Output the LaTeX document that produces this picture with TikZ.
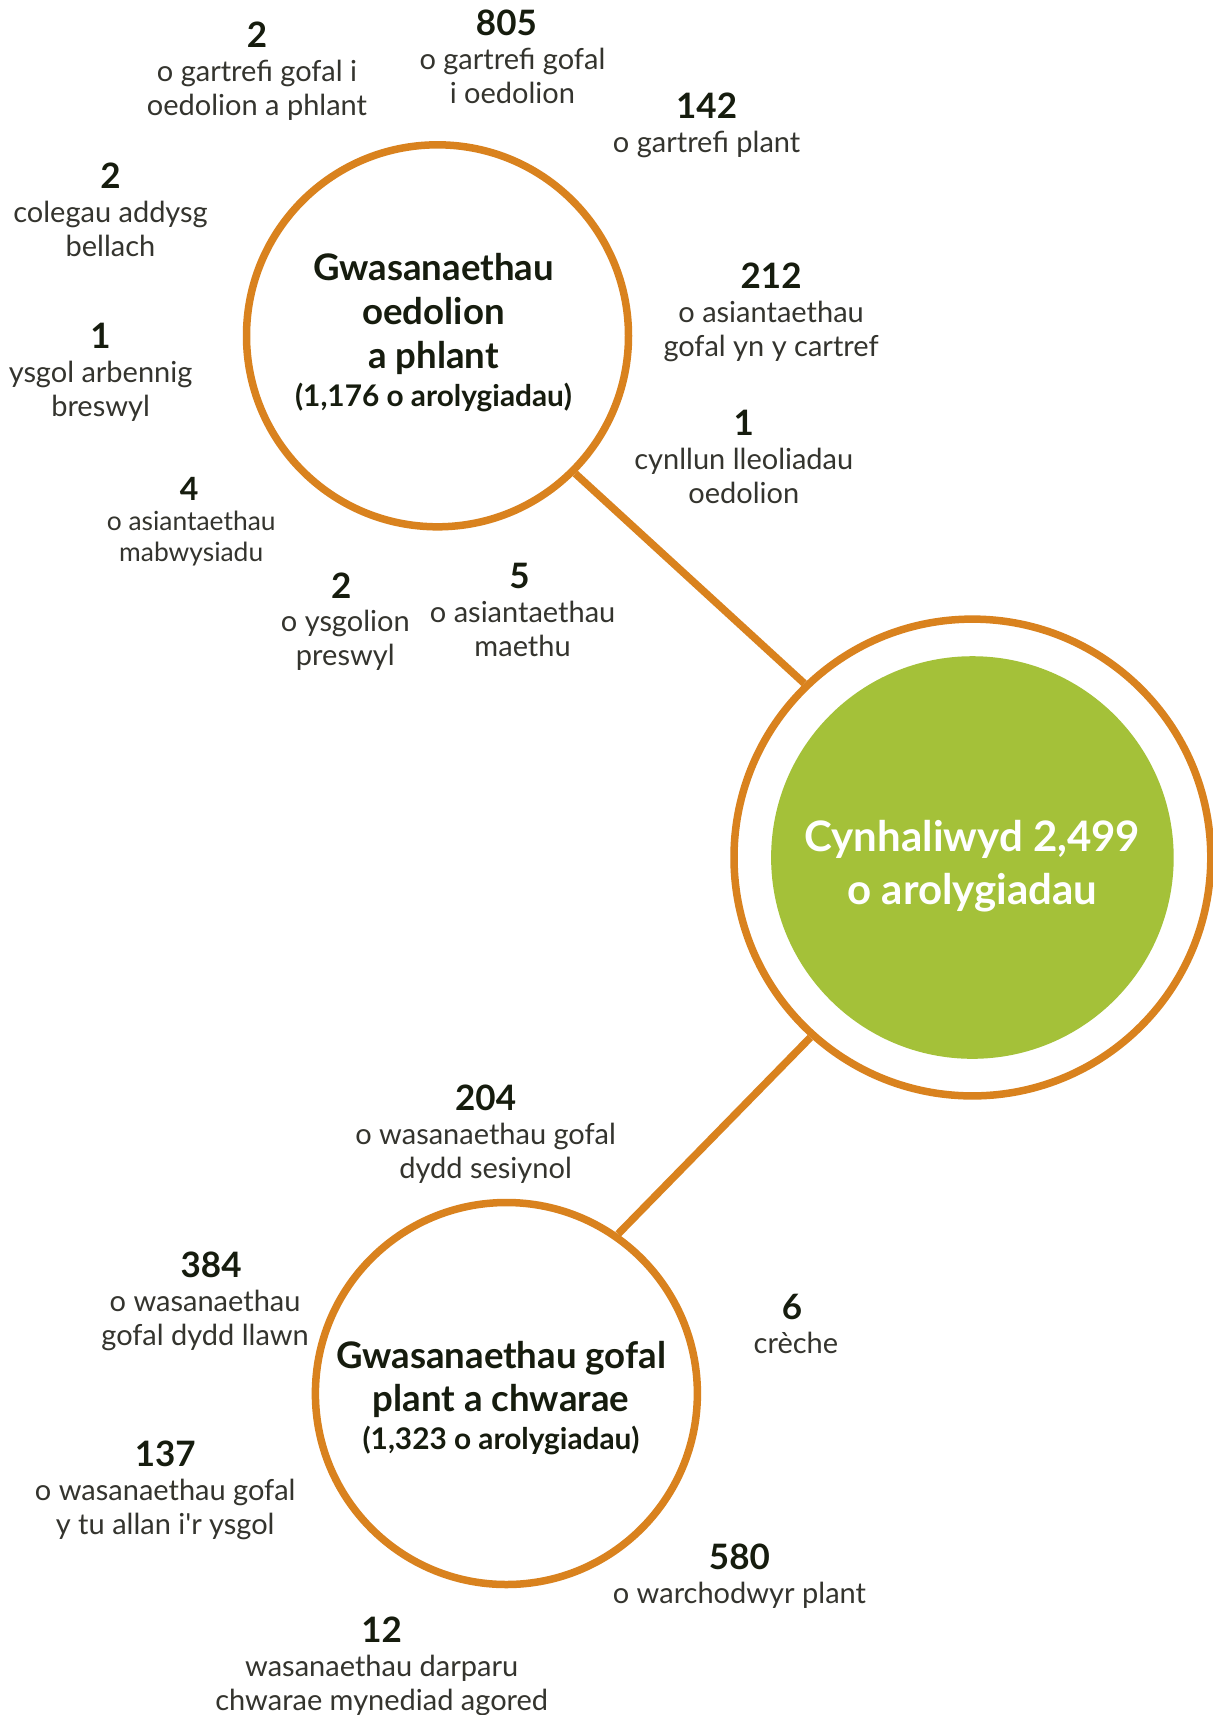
\documentclass[tikz,border=0pt]{standalone}
\usepackage{fontspec}
\setmainfont{Lato}[Ligatures=TeXOff]
\usetikzlibrary{positioning}
\definecolor{oren}{HTML}{D9821E}
\definecolor{gwyrdd}{HTML}{A4C139}
\definecolor{inc}{HTML}{161C0E}
\definecolor{llwyd}{HTML}{34342E}
\tikzset{
    rhif/.style={font=\bfseries\fontsize{17.5}{17.5}\selectfont,text=inc,inner sep=0pt},
    rhifbach/.style={rhif,font=\bfseries\fontsize{16}{16}\selectfont},
    testun/.style={font=\fontsize{14.5}{17}\selectfont,text=llwyd,align=center,inner sep=0pt},
    testunbach/.style={testun,font=\fontsize{13.2}{15.3}\selectfont},
    cylch/.style={circle,draw=oren,line width=3.75pt,fill=white,minimum size=191pt,inner sep=0pt},
    teitl/.style={align=center,text=inc,inner sep=0pt,font=\bfseries\fontsize{18.3}{21.9}\selectfont},
    modrwy/.style={circle,draw=oren,line width=3.75pt,minimum size=238.4pt},
    canol/.style={circle,fill=gwyrdd,minimum size=201.3pt,inner sep=0pt},
    cyfanswm/.style={align=center,text=white,inner sep=0pt,font=\bfseries\fontsize{21}{26.8}\selectfont},
    cyswllt/.style={draw=oren,line width=3.75pt},
}
\newcommand{\nifer}[1]{{\fontsize{14.9}{16}\selectfont(#1 o arolygiadau)}}

\begin{document}
\begin{tikzpicture}[x=0.5pt,y=-0.5pt]
\path[fill=white,use as bounding box] (0,0) rectangle (1213,1715);

% y cylchoedd
\node[cylch] (oedolion) at (437.5,335.8) {};
\node[teitl,xshift=-2pt,yshift=1.6pt] (oedolion-t) at (oedolion.center) {Gwasanaethau\\oedolion\\a phlant\\[-3pt]\nifer{1,176}};

\node[modrwy] (modrwy) at (972.4,857.5) {};
\node[canol]  (canol) at (modrwy.center) {};
\node[cyfanswm,yshift=-4.4pt] (canol-t) at (canol.center) {Cynhaliwyd 2,499\\o arolygiadau};

\node[cylch] (plant) at (506.4,1393.5) {};
\node[teitl,xshift=-2.7pt,yshift=-2.2pt] (plant-t) at (plant.center) {Gwasanaethau gofal\\plant a chwarae\\[-3pt]\nifer{1,323}};

\draw[cyswllt] (oedolion.-45)--(modrwy.134);
\draw[cyswllt] (plant.55.6)--(modrwy.228.9);

% gwasanaethau oedolion a phlant
\node[rhif] (cartAP) at (257.0,35.0) {2};
\node[testun,below=5.8pt of cartAP] (cartAP-t) {o gartrefi gofal i\\oedolion a phlant};

\node[rhif] (cartA) at (506.4,23.0) {805};
\node[testun,below=5.8pt of cartA,xshift=3pt] (cartA-t) {o gartrefi gofal\\i oedolion};

\node[rhif] (cartP) at (706.6,106.1) {142};
\node[testun,below=5.8pt of cartP] (cartP-t) {o gartrefi plant};

\node[rhif] (coleg) at (110.5,176.1) {2};
\node[testun,below=5.8pt of coleg] (coleg-t) {colegau addysg\\bellach};

\node[rhif] (asiant) at (771.1,275.6) {212};
\node[testun,below=5.8pt of asiant] (asiant-t) {o asiantaethau\\gofal yn y cartref};

\node[rhif] (ysgArb) at (100.6,335.8) {1};
\node[testun,below=5.8pt of ysgArb] (ysgArb-t) {ysgol arbennig\\breswyl};

\node[rhif] (cynll) at (743.8,423.3) {1};
\node[testun,below=5.8pt of cynll] (cynll-t) {cynllun lleoliadau\\oedolion};

\node[rhifbach] (mabw) at (189.2,488.9) {4};
\node[testunbach,below=5pt of mabw,xshift=1pt] (mabw-t) {o asiantaethau\\mabwysiadu};

\node[rhif] (ysgPres) at (341.3,585.2) {2};
\node[testun,below=5.8pt of ysgPres,xshift=2pt] (ysgPres-t) {o ysgolion\\preswyl};

\node[rhif] (maeth) at (519.6,576.4) {5};
\node[testun,below=5.8pt of maeth,xshift=1.5pt] (maeth-t) {o asiantaethau\\maethu};

% gofal plant a chwarae
\node[rhif] (sesiyn) at (485.6,1098.2) {204};
\node[testun,below=5.8pt of sesiyn] (sesiyn-t) {o wasanaethau gofal\\dydd sesiynol};

\node[rhif] (llawn) at (211.1,1264.4) {384};
\node[testun,below=5.8pt of llawn,xshift=-3pt] (llawn-t) {o wasanaethau\\gofal dydd llawn};

\node[rhif] (creche) at (791.9,1307.1) {6};
\node[testun,below=5.8pt of creche,xshift=2pt] (creche-t) {crèche};

\node[rhif] (allan) at (165.2,1453.7) {137};
\node[testun,below=5.8pt of allan] (allan-t) {o wasanaethau gofal\\y tu allan i'r ysgol};

\node[rhif] (warch) at (739.4,1556.5) {580};
\node[testun,below=5.8pt of warch] (warch-t) {o warchodwyr plant};

\node[rhif] (chwarae) at (381.7,1629.8) {12};
\node[testun,below=5.8pt of chwarae] (chwarae-t) {wasanaethau darparu\\chwarae mynediad agored};
\end{tikzpicture}
\end{document}
